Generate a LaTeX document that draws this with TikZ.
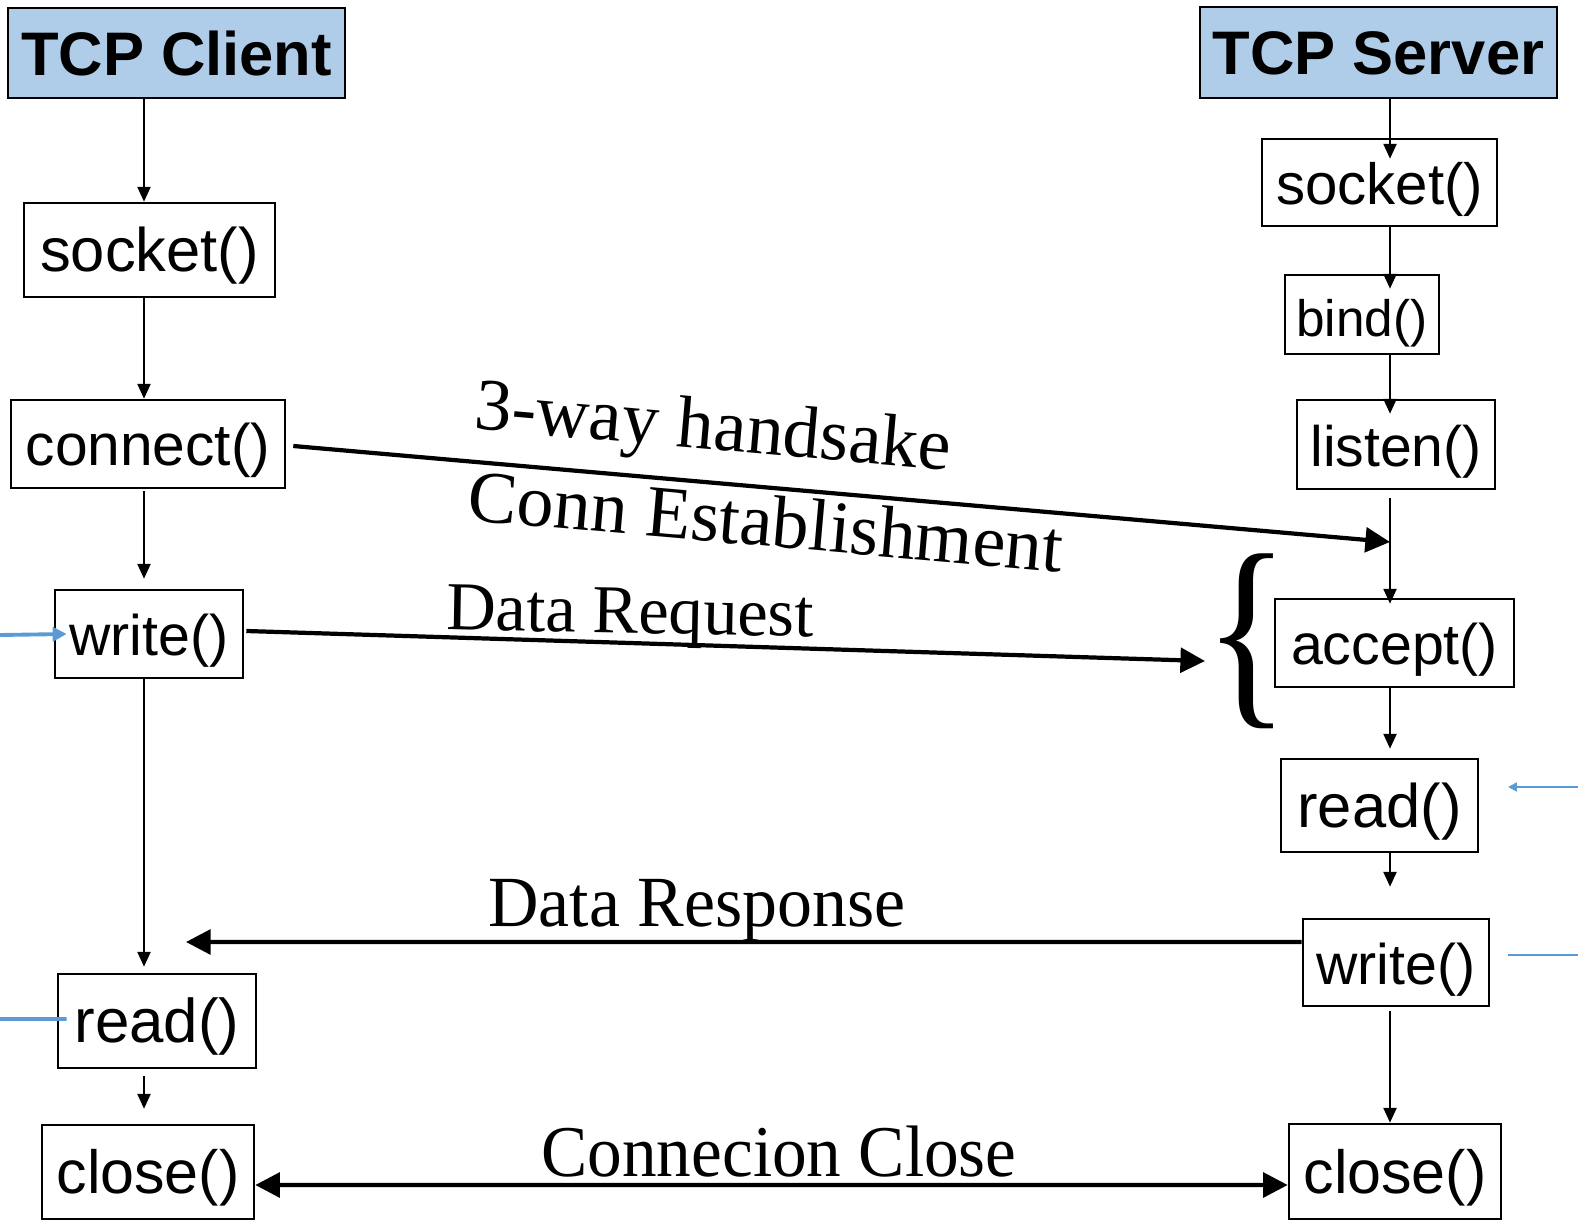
\documentclass[tikz,border=0pt]{standalone}
\usepackage{fontspec}
\usepackage{graphicx}
\setmainfont{Liberation Serif}
\newfontfamily\boxfont{Liberation Sans}
\usetikzlibrary{arrows.meta}
\definecolor{headblue}{RGB}{175,205,233}
\definecolor{noteblue}{RGB}{91,155,213}
\def\fsz#1{\fontsize{#1}{#1}\selectfont}
\tikzset{
	callbox/.style={draw, line width=1.5pt, inner sep=0pt, text height=32pt, text depth=7pt, font=\boxfont\fsz{#1}},
	callbox/.default=33,
	headbox/.style={callbox, fill=headblue, text height=25.5pt, text depth=0pt, font=\boxfont\bfseries\fsz{35}},
	flow/.style={line width=1.1pt, -{Triangle[length=8.5pt, width=7.5pt]}},
	msg/.style={line width=2.4pt, -{Triangle[length=14pt, width=14pt]}},
	note/.style={draw=noteblue, line width=#1},
	note/.default=2.2pt,
	msglabel/.style={inner sep=0pt, font=\fsz{#1}}
}

\begin{document}
\begin{tikzpicture}[x=0.02cm, y=-0.02cm]
			%%%%% START %%%%%
			\useasboundingbox (0, 0) rectangle (1578, 1220);
			
			% the two time lines
			\coordinate (cx) at (144, 0);
			\coordinate (sx) at (1390, 0);
			
			% client side
			\node[headbox, minimum width=6.74cm, minimum height=1.8cm] (cli) at (176.5, 53) {TCP Client};
			\node[callbox=35, minimum width=5.02cm, minimum height=1.88cm] (csock) at (149.5, 250) {socket()};
			\node[callbox=33.4, minimum width=5.48cm, minimum height=1.76cm] (cconn) at (148, 444) {connect()};
			\node[callbox=32.6, minimum width=3.76cm, minimum height=1.76cm] (cwrite) at (149, 634) {write()};
			\node[callbox=35.2, minimum width=3.96cm, minimum height=1.88cm] (cread) at (157, 1021) {read()};
			\node[callbox=34.7, minimum width=4.24cm, minimum height=1.88cm] (cclose) at (148, 1172) {close()};
			
			% server side
			\node[headbox, minimum width=7.14cm, minimum height=1.82cm] (srv) at (1378.5, 52.5) {TCP Server};
			\node[callbox=33.1, minimum width=4.7cm, minimum height=1.74cm] (ssock) at (1379.5, 182.5) {socket()};
			\node[callbox=29.2, minimum width=3.08cm, minimum height=1.58cm] (sbind) at (1362, 314.5) {bind()};
			\node[callbox=32.5, minimum width=3.96cm, minimum height=1.78cm] (slisten) at (1396, 444.5) {listen()};
			\node[callbox=32.6, minimum width=4.78cm, minimum height=1.76cm] (saccept) at (1394.5, 643) {accept()};
			\node[callbox=35, minimum width=3.94cm, minimum height=1.86cm] (sread) at (1379.5, 805.5) {read()};
			\node[callbox=32.6, minimum width=3.72cm, minimum height=1.74cm] (swrite) at (1396, 962.5) {write()};
			\node[callbox=34.7, minimum width=4.24cm, minimum height=1.9cm] (sclose) at (1395, 1171.5) {close()};
			
			% client flow
			\draw[flow] (cli.south -| cx) -- (csock.north -| cx);
			\draw[flow] (csock.south -| cx) -- (cconn.north -| cx);
			\draw[flow, shorten <=0.04cm, shorten >=0.2cm] (cconn.south -| cx) -- (cwrite.north -| cx);
			\draw[flow, shorten >=0.12cm] (cwrite.south -| cx) -- (cread.north -| cx);
			\draw[flow, shorten <=0.14cm, shorten >=0.3cm] (cread.south -| cx) -- (cclose.north -| cx);
			
			% server flow
			\coordinate (hs) at (1390, 542);
			\draw[flow, shorten >=-0.42cm] (srv.south -| sx) -- (ssock.north -| sx);
			\draw[flow, shorten >=-0.3cm] (ssock.south -| sx) -- (sbind.north -| sx);
			\draw[flow, shorten >=-0.3cm] (sbind.south -| sx) -- (slisten.north -| sx);
			\draw[flow, shorten <=0.16cm, shorten >=-0.12cm] (slisten.south -| sx) -- (saccept.north -| sx);
			\draw[flow, shorten >=0.18cm] (saccept.south -| sx) -- (sread.north -| sx);
			\draw[flow, shorten >=0.62cm] (sread.south -| sx) -- (swrite.north -| sx);
			\draw[flow, shorten <=0.08cm] (swrite.south -| sx) -- (sclose.north -| sx);
			
			% messages
			\coordinate (rqend) at (1205, 661);
			\coordinate (rsend) at (186, 942);
			\draw[msg] ([xshift=0.14cm, yshift=-0.04cm]cconn.east) -- (hs);
			\draw[msg] ([xshift=0.04cm, yshift=0.06cm]cwrite.east) -- (rqend);
			\draw[msg] ([yshift=0.41cm]swrite.west) -- (rsend);
			\draw[msg, {Triangle[length=14pt, width=14pt]}-{Triangle[length=14pt, width=14pt]}] ([yshift=-0.26cm]cclose.east) -- ([yshift=-0.27cm]sclose.west);
			
			\node[msglabel=42, rotate=-5] (hslabel) at (713, 432) {3-way handsake};
			\node[msglabel=42, rotate=-5] (estlabel) at (766, 521) {Conn Establishment};
			\node[msglabel=39, rotate=-1] (rqlabel) at (630, 618) {Data Request};
			\node[msglabel=41, xscale=0.97] (rslabel) at (697, 911) {Data Response};
			\node[msglabel=41.5, xscale=0.95] (cllabel) at (779, 1152) {Connecion Close};
			
			% brace before accept()
			\node[inner sep=0pt] (brace) at (1247, 641) {\resizebox*{1.7cm}{3.5cm}{\{}};
			
			% blue side notes
			\coordinate (wnote) at (0, 635);
			\coordinate (rnote) at (0, 1019);
			\coordinate (srnote) at (1578, 787);
			\coordinate (srtip) at (1508, 787);
			\coordinate (swnote) at (1578, 955);
			\coordinate (swtip) at (1508, 955);
			\draw[note, -{Triangle[length=8pt, width=8pt]}] (wnote) -- ([xshift=0.26cm]cwrite.west);
			\draw[note] (rnote) -- ([xshift=0.2cm, yshift=0.04cm]cread.west);
			\draw[note=1.1pt, -{Triangle[length=5pt, width=5pt]}] (srnote) -- (srtip);
			\draw[note=1.1pt] (swtip) -- (swnote);
			%%%%% END %%%%%
		\end{tikzpicture}
\end{document}
